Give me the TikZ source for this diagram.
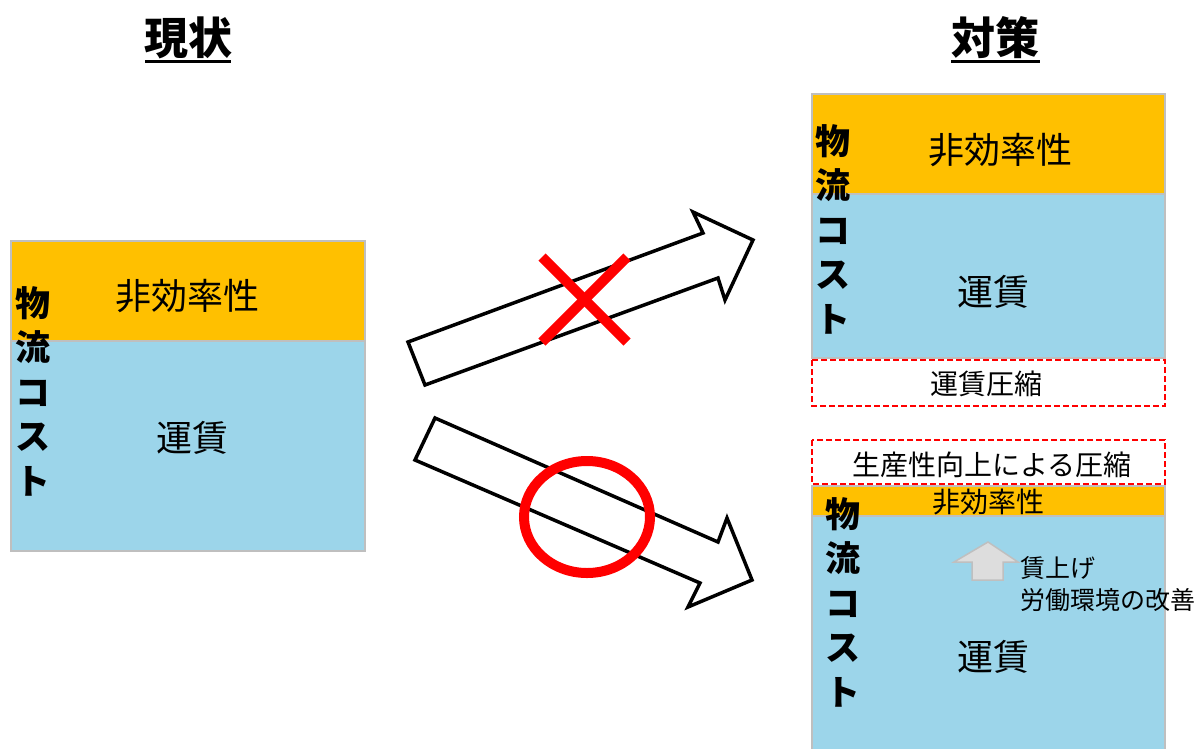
\documentclass[tikz,border=0pt]{standalone}
\usepackage{fontspec}
\setmainfont{Noto Sans CJK JP}
\usetikzlibrary{positioning}
\definecolor{orng}{HTML}{FFC000}
\definecolor{skyb}{HTML}{9CD5EA}
\definecolor{edgegray}{HTML}{BFBFBF}
\definecolor{lightgray2}{HTML}{DDDDDD}
\begin{document}
\begin{tikzpicture}[x=1pt,y=-1pt,
  blk/.style={draw=edgegray,line width=1.5pt},
  orblk/.style={blk,fill=orng},
  blblk/.style={blk,fill=skyb},
  dashbox/.style={draw=red,line width=1.4pt,dash pattern=on 6pt off 3pt,fill=white},
  lbl/.style={inner sep=0pt,anchor=center},
  big/.style={lbl,font=\fontsize{36}{40}\selectfont},
  mid/.style={lbl,font=\fontsize{28}{32}\selectfont},
  small/.style={lbl,font=\fontsize{25}{28}\selectfont},
  vert/.style={lbl,align=center,font=\bfseries\fontsize{35}{44.5}\selectfont},
  ttl/.style={lbl,font=\bfseries\fontsize{44}{48}\selectfont},
  blockarrow/.style={draw=black,line width=3.5pt,fill=white,line join=miter},
  redmark/.style={draw=red,line width=10pt}
]
\useasboundingbox (0,0) rectangle (1195,748);

% titles
\node[ttl] (t1) at (188,38) {現状};
\node[ttl] (t2) at (995,38) {対策};
\draw[line width=3pt] (145,61) -- (231,61);
\draw[line width=3pt] (951,61) -- (1040,61);

% left block
\path[orblk] (11,241) rectangle (365,341);
\path[blblk] (11,341) rectangle (365,551);
\node[big] (l1) at (187,296) {非効率性};
\node[big] (l2) at (192,438) {運賃};
\node[vert] (lv) at (33,391) {物\\流\\コ\\ス\\ト};

% top right block
\path[orblk] (812,94) rectangle (1165,194);
\path[blblk] (812,194) rectangle (1165,358);
\node[big] (r1) at (1000,150) {非効率性};
\node[big] (r2) at (993,292) {運賃};
\node[vert] (rv) at (833,229) {物\\流\\コ\\ス\\ト};
\path[dashbox] (812,360) rectangle (1165,406);
\node[mid] (r3) at (986,384) {運賃圧縮};

% bottom right block
\path[dashbox] (812,440) rectangle (1165,484);
\node[mid] (b0) at (992,465) {生産性向上による圧縮};
\path[orblk] (812,486) rectangle (1165,516);
\path[blblk] (812,516) rectangle (1165,760);
\node[mid] (b1) at (988,502) {非効率性};
\node[vert] (bv) at (843,602) {物\\流\\コ\\ス\\ト};
\node[big] (b2) at (993,657) {運賃};
\draw[draw=edgegray,line width=1.5pt,fill=lightgray2]
  (988,542) -- (1018,562) -- (1003,562) -- (1003,580) -- (972,580) -- (972,562) -- (954,562) -- cycle;
\node[small,anchor=west] (b3) at (1020,568) {賃上げ};
\node[small,anchor=west] (b4) at (1020,600) {労働環境の改善};

% arrows
\draw[blockarrow] (408,342) -- (703,233) -- (693,212) -- (753,240) -- (725,300) -- (718,278) -- (425,385) -- cycle;
\draw[blockarrow] (435,418) -- (718,542) -- (727,518) -- (752,580) -- (688,607) -- (700,583) -- (415,460) -- cycle;

% marks
\draw[redmark] (542,257) -- (627,342);
\draw[redmark] (627,257) -- (542,342);
\draw[redmark] (587,517) ellipse [x radius=63, y radius=56];
\end{tikzpicture}
\end{document}
